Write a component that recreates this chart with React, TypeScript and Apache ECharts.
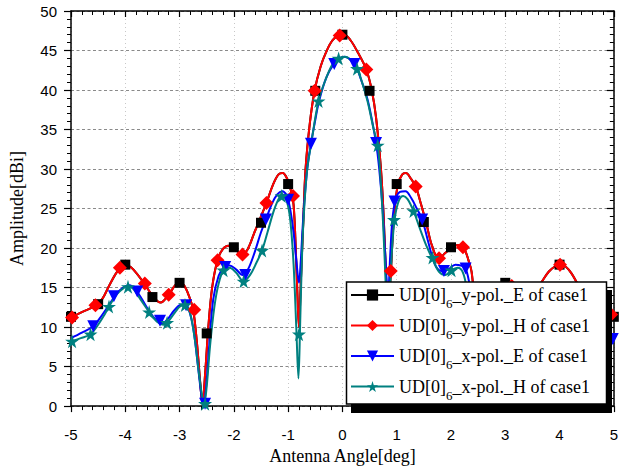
import React, { useEffect, useRef } from "react";
import * as echarts from "echarts";

// ---------- data ----------
const seriesNames = [
  "UD[0]6_y-pol._E of case1",
  "UD[0]6_y-pol._H of case1",
  "UD[0]6_x-pol._E of case1",
  "UD[0]6_x-pol._H of case1",
];

// y-pol. pattern (E and H curves coincide)
const yPolCurve: number[][] = [
  [-5, 11.2], [-4.8, 11.9], [-4.55, 12.7], [-4.42, 13.6], [-4.3, 15.2], [-4.18, 16.7], [-4.08, 17.6], [-4.0, 17.9],
  [-3.9, 17.6], [-3.78, 16.7], [-3.65, 15.5], [-3.5, 14.0], [-3.35, 13.1], [-3.2, 14.1], [-3.08, 15.3], [-3.0, 15.6],
  [-2.92, 15.3], [-2.83, 14.0], [-2.75, 12.2], [-2.68, 8.0], [-2.62, 3.0], [-2.58, 0.3], [-2.53, 4.0], [-2.47, 10.0],
  [-2.4, 15.0], [-2.3, 18.5], [-2.2, 19.9], [-2.1, 20.3], [-1.98, 19.9], [-1.86, 19.2], [-1.75, 19.8], [-1.62, 22.0],
  [-1.5, 24.0], [-1.4, 25.7], [-1.28, 28.0], [-1.18, 29.3], [-1.1, 29.5], [-1.02, 28.8], [-0.95, 27.3], [-0.9, 25.5],
  [-0.86, 20.0], [-0.82, 12.5], [-0.8, 10.0], [-0.77, 15.0], [-0.72, 23.5], [-0.68, 29.9], [-0.6, 35.8], [-0.51, 40.0],
  [-0.4, 43.0], [-0.3, 44.8], [-0.18, 46.3], [-0.05, 46.9], [0.05, 46.9], [0.15, 46.3], [0.28, 44.8], [0.44, 42.6],
  [0.54, 40.0], [0.62, 36.5], [0.71, 30.0], [0.76, 24.0], [0.8, 17.0], [0.84, 11.0], [0.87, 14.5], [0.9, 18.0],
  [0.95, 24.0], [1.02, 28.0], [1.1, 29.3], [1.17, 29.5], [1.26, 28.8], [1.35, 27.8], [1.45, 25.5], [1.55, 23.0],
  [1.65, 20.3], [1.77, 18.7], [1.9, 19.4], [2.03, 20.2], [2.15, 20.4], [2.25, 19.8], [2.32, 18.5], [2.38, 17.0],
  [2.45, 12.0], [2.52, 6.0], [2.6, 0.3], [2.67, 5.0], [2.74, 10.5], [2.82, 13.5], [2.92, 15.2], [3.0, 15.6],
  [3.1, 15.1], [3.2, 14.2], [3.35, 13.1], [3.5, 14.0], [3.65, 15.5], [3.8, 17.0], [3.92, 17.7], [4.02, 17.9],
  [4.12, 17.6], [4.22, 16.8], [4.35, 15.2], [4.46, 13.5], [4.6, 12.6], [4.8, 11.9], [5.0, 11.5],
];

// x-pol. E pattern
const xPolECurve: number[][] = [
  [-5, 8.6], [-4.8, 9.3], [-4.59, 10.1], [-4.45, 11.3], [-4.3, 12.8], [-4.15, 14.3], [-4.02, 15.1], [-3.92, 15.3],
  [-3.82, 14.8], [-3.7, 13.6], [-3.55, 11.9], [-3.42, 10.8], [-3.33, 10.4], [-3.22, 11.0], [-3.1, 12.1], [-2.98, 12.8],
  [-2.9, 12.8], [-2.82, 12.0], [-2.74, 9.5], [-2.66, 5.0], [-2.6, 1.5], [-2.56, 0.0], [-2.51, 2.5], [-2.45, 8.0],
  [-2.38, 13.5], [-2.28, 16.5], [-2.18, 17.6], [-2.08, 17.8], [-1.96, 17.3], [-1.84, 16.6], [-1.74, 17.3], [-1.62, 19.4],
  [-1.5, 22.0], [-1.41, 23.6], [-1.3, 25.6], [-1.2, 26.8], [-1.11, 27.2], [-1.03, 26.7], [-0.97, 25.2], [-0.9, 22.0],
  [-0.85, 18.5], [-0.8, 15.6], [-0.77, 18.0], [-0.72, 24.0], [-0.65, 29.9], [-0.58, 33.2], [-0.5, 36.2], [-0.43, 38.6],
  [-0.3, 41.5], [-0.15, 43.3], [0.03, 44.2], [0.22, 43.3], [0.35, 41.2], [0.47, 38.6], [0.62, 33.3], [0.68, 29.9],
  [0.74, 25.0], [0.79, 19.0], [0.84, 14.0], [0.88, 19.0], [0.92, 23.5], [0.98, 26.2], [1.06, 27.1], [1.16, 27.2],
  [1.27, 26.3], [1.37, 25.0], [1.47, 23.6], [1.58, 20.8], [1.7, 18.0], [1.82, 17.1], [1.95, 17.3], [2.08, 17.9],
  [2.18, 17.8], [2.27, 17.4], [2.35, 15.0], [2.43, 10.0], [2.52, 4.0], [2.6, 0.0], [2.67, 4.0], [2.75, 9.5],
  [2.85, 12.2], [2.98, 12.8], [3.1, 12.1], [3.22, 11.0], [3.35, 10.4], [3.5, 11.2], [3.65, 13.0], [3.8, 14.6],
  [3.92, 15.3], [4.05, 15.0], [4.2, 14.0], [4.35, 12.5], [4.5, 11.0], [4.65, 10.0], [4.8, 9.3], [5, 8.5],
];

// x-pol. H pattern
const xPolHCurve: number[][] = [
  [-5, 8.2], [-4.82, 8.6], [-4.64, 9.1], [-4.5, 10.3], [-4.38, 11.6], [-4.3, 12.6], [-4.15, 14.2], [-4.02, 15.0],
  [-3.95, 15.2], [-3.85, 14.8], [-3.72, 13.5], [-3.56, 11.9], [-3.42, 10.7], [-3.3, 10.3], [-3.2, 10.8], [-3.08, 11.9],
  [-2.96, 12.7], [-2.88, 12.7], [-2.8, 11.6], [-2.72, 8.5], [-2.65, 4.5], [-2.59, 1.5], [-2.55, 0.2], [-2.5, 2.5],
  [-2.44, 7.5], [-2.36, 12.5], [-2.28, 15.5], [-2.19, 17.2], [-2.08, 17.5], [-1.96, 16.9], [-1.82, 15.8], [-1.7, 16.6],
  [-1.58, 18.2], [-1.48, 19.7], [-1.38, 22.0], [-1.26, 24.8], [-1.16, 26.4], [-1.1, 26.6], [-1.02, 25.8], [-0.96, 23.5],
  [-0.9, 18.0], [-0.85, 10.0], [-0.81, 3.5], [-0.78, 10.0], [-0.74, 20.0], [-0.7, 25.5], [-0.65, 29.9], [-0.58, 33.0],
  [-0.44, 38.6], [-0.3, 41.5], [-0.18, 43.3], [-0.07, 44.0], [0.05, 44.2], [0.15, 43.8], [0.27, 42.7], [0.37, 40.8],
  [0.47, 38.4], [0.57, 35.2], [0.65, 33.0], [0.7, 29.0], [0.75, 23.0], [0.8, 15.0], [0.84, 8.0], [0.88, 15.0],
  [0.92, 20.5], [0.97, 24.0], [1.04, 26.0], [1.12, 26.6], [1.2, 26.2], [1.31, 24.7], [1.42, 22.6], [1.54, 20.4],
  [1.66, 18.6], [1.78, 17.0], [1.9, 16.6], [2.01, 17.2], [2.12, 17.5], [2.22, 16.9], [2.3, 14.5], [2.38, 11.0],
  [2.46, 6.5], [2.54, 2.0], [2.6, 0.2], [2.66, 3.0], [2.74, 8.0], [2.84, 11.5], [2.96, 12.7], [3.06, 12.6],
  [3.18, 11.6], [3.3, 10.5], [3.42, 10.4], [3.56, 11.6], [3.72, 13.5], [3.88, 14.9], [3.98, 15.2], [4.1, 14.7],
  [4.25, 13.3], [4.4, 11.5], [4.55, 9.8], [4.7, 9.0], [4.85, 8.5], [5, 8.0],
];

// marker points
const yPolEMarkers: number[][] = [
  [-5, 11.3], [-4.5, 12.9], [-4, 17.9], [-3.5, 13.8], [-3, 15.6], [-2.5, 9.2], [-2, 20.1], [-1.5, 23.2], [-1, 28.1],
  [-0.5, 39.9], [0, 47], [0.5, 39.9], [1, 28.1], [1.5, 23.3], [2, 20.1], [2.5, 9.2], [3, 15.6], [3.5, 13.8],
  [4, 17.9], [4.5, 12.9], [5, 11.3],
];
const yPolHMarkers: number[][] = [
  [-4.98, 11.2], [-4.55, 12.75], [-4.1, 17.5], [-3.64, 15.5], [-3.2, 14.1], [-2.73, 12.2], [-2.3, 18.45], [-1.84, 19.2],
  [-1.4, 25.7], [-0.91, 26.6], [-0.51, 39.9], [-0.05, 46.9], [0.44, 42.6], [0.89, 17.1], [1.35, 27.8], [1.78, 18.7],
  [2.22, 20.1], [2.67, 3.0], [3.12, 15.2], [3.56, 14.5], [4.01, 17.9], [4.46, 13.5], [4.95, 11.6],
];
const xPolEMarkers: number[][] = [
  [-4.59, 10.1], [-4.21, 13.9], [-3.78, 14.5], [-3.36, 10.8], [-2.88, 12.75], [-2.53, 0.3], [-2.16, 17.6], [-1.79, 16.6],
  [-1.41, 23.6], [-1.0, 26.1], [-0.58, 33.2], [-0.15, 43.3], [0.22, 43.3], [0.62, 33.3], [0.96, 25.9], [1.47, 23.6],
  [1.87, 17.1], [2.27, 17.4], [2.62, 0.3], [3.0, 12.7], [3.38, 10.6], [3.8, 14.6], [4.22, 13.8], [4.6, 10.1], [4.98, 8.5],
];
const xPolHMarkers: number[][] = [
  [-4.98, 8.2], [-4.64, 9.1], [-4.3, 12.6], [-3.95, 15.1], [-3.56, 11.9], [-3.23, 10.55], [-2.9, 12.8], [-2.53, 0.3],
  [-2.19, 17.2], [-1.82, 15.8], [-1.48, 19.7], [-1.12, 26.6], [-0.8, 9.1], [-0.44, 38.6], [-0.07, 44.0], [0.27, 42.7],
  [0.65, 33.0], [0.95, 23.6], [1.31, 24.7], [1.66, 18.8], [2.01, 17.2], [2.36, 13.0], [2.7, 5.0], [3.05, 12.8],
  [3.4, 10.6], [3.75, 13.5], [4.1, 14.8], [4.45, 11.0], [4.8, 8.7],
];

const xMin = -5;
const xMax = 5;
const yMin = 0;
const yMax = 50;

// ---------- styles ----------
const colors = ["#000000", "#ff0000", "#0000ff", "#008080"];
const STAR = "path://M50,0 L61,35 L98,35 L68,57 L79,91 L50,70 L21,91 L32,57 L2,35 L39,35 Z";
const DOWN_TRI = "path://M0,0 L100,0 L50,90 Z";
const symbols = ["rect", "diamond", DOWN_TRI, STAR];
const symbolSizes = [10, 14, 12, 14];
const SERIF = "'Liberation Serif', 'Times New Roman', serif";
const SANS = "'Liberation Sans', Arial, sans-serif";

function legendLabel(name: string) {
  // "UD[0]6_..." -> UD[0] + subscript 6 + rest
  const rest = name.slice(6);
  return "{m|UD[0]}{s|6}{m|" + rest + "}";
}

export default function App() {
  const ref = useRef<HTMLDivElement>(null);

  useEffect(() => {
    if (!ref.current) return;
    const chart = echarts.init(ref.current, undefined, { renderer: "svg" });

    const curves = [yPolCurve, yPolCurve, xPolECurve, xPolHCurve];
    const markers = [yPolEMarkers, yPolHMarkers, xPolEMarkers, xPolHMarkers];

    const lineSeries = seriesNames.map((name, i) => ({
      type: "line",
      name,
      data: curves[i],
      smooth: 0.35,
      showSymbol: false,
      symbol: symbols[i],
      symbolSize: symbolSizes[i],
      lineStyle: { color: colors[i], width: 2 },
      itemStyle: { color: colors[i] },
      z: 2,
      silent: true,
    }));
    const markerSeries = seriesNames.map((name, i) => ({
      type: "scatter",
      name,
      data: markers[i],
      symbol: symbols[i],
      symbolSize: symbolSizes[i],
      itemStyle: { color: colors[i], opacity: 1 },
      z: 3,
      silent: true,
    }));

    const axisLineStyle = { color: "#000", width: 1.5 };
    const baseX = {
      type: "value",
      min: xMin,
      max: xMax,
      interval: 1,
      axisLine: { show: true, onZero: false, lineStyle: axisLineStyle },
    };
    const baseY = {
      type: "value",
      min: yMin,
      max: yMax,
      interval: 5,
      axisLine: { show: true, onZero: false, lineStyle: axisLineStyle },
    };

    chart.setOption({
      animation: false,
      backgroundColor: "#ffffff",
      grid: { left: 65, right: 5, top: 11, bottom: 57, containLabel: false },
      xAxis: [
        {
          ...baseX,
          position: "bottom",
          axisTick: { show: true, inside: false, length: 6, lineStyle: { color: "#000", width: 1.2 } },
          minorTick: { show: true, splitNumber: 5, length: 4, lineStyle: { color: "#000", width: 1 } },
          axisLabel: { color: "#000", fontSize: 15, fontFamily: SANS, margin: 21 },
          splitLine: { show: true, lineStyle: { color: "#c8c8c8", type: [1, 3], width: 1 } },
          name: "Antenna Angle[deg]",
          nameLocation: "middle",
          nameGap: 40,
          nameTextStyle: { color: "#000", fontSize: 18, fontFamily: SERIF },
        },
        {
          ...baseX,
          position: "top",
          axisTick: { show: true, inside: true, length: 6, lineStyle: { color: "#000", width: 1.2 } },
          minorTick: { show: true, splitNumber: 5, length: 4, lineStyle: { color: "#000", width: 1 } },
          axisLabel: { show: false },
          splitLine: { show: false },
        },
      ],
      yAxis: [
        {
          ...baseY,
          position: "left",
          axisTick: { show: true, inside: false, length: 7, lineStyle: { color: "#000", width: 1.2 } },
          minorTick: { show: true, splitNumber: 5, length: 4, lineStyle: { color: "#000", width: 1 } },
          axisLabel: { color: "#000", fontSize: 15, fontFamily: SANS, margin: 14 },
          splitLine: { show: true, lineStyle: { color: "#8a8a8a", type: [3, 2.5], width: 1 } },
          name: "Amplitude[dBi]",
          nameLocation: "middle",
          nameGap: 45,
          nameRotate: 90,
          nameTextStyle: { color: "#000", fontSize: 18, fontFamily: SERIF },
        },
        {
          ...baseY,
          position: "right",
          axisTick: { show: true, inside: true, length: 7, lineStyle: { color: "#000", width: 1.2 } },
          minorTick: { show: true, splitNumber: 5, length: 4, lineStyle: { color: "#000", width: 1 } },
          axisLabel: { show: false },
          splitLine: { show: false },
        },
      ],
      legend: {
        data: seriesNames,
        orient: "vertical",
        left: 350,
        top: 286,
        padding: 0,
        itemGap: 6.5,
        itemWidth: 43,
        itemHeight: 14,
        selectedMode: false,
        z: 200,
        formatter: legendLabel,
        textStyle: {
          color: "#000",
          fontFamily: SERIF,
          fontSize: 18,
          rich: {
            m: { fontSize: 18, fontFamily: SERIF, color: "#000", lineHeight: 30 },
            s: { fontSize: 13, fontFamily: SERIF, color: "#000", lineHeight: 14, verticalAlign: "bottom" },
          },
        },
      },
      graphic: [
        {
          type: "rect",
          z: 100,
          silent: true,
          shape: { x: 351, y: 290, width: 261, height: 123 },
          style: { fill: "#000" },
        },
        {
          type: "rect",
          z: 101,
          silent: true,
          shape: { x: 346.5, y: 282, width: 260, height: 122 },
          style: { fill: "#fff", stroke: "#000", lineWidth: 1.5 },
        },
      ],
      series: [...lineSeries, ...markerSeries],
    } as any);

    return () => chart.dispose();
  }, []);

  return (
    <div
      ref={ref}
      style={{ position: "fixed", left: 0, top: 0, width: 621, height: 470, background: "#fff" }}
    />
  );
}
